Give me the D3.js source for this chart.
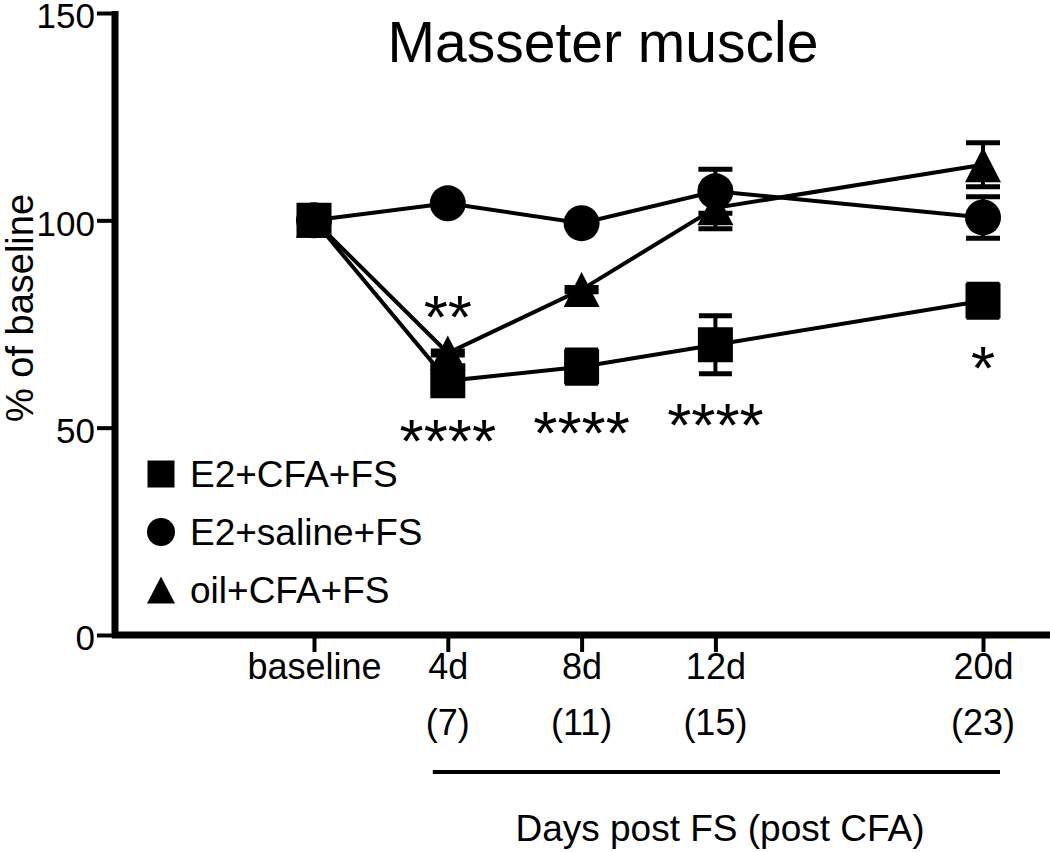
<!DOCTYPE html>
<html>
<head>
<meta charset="utf-8">
<script src="https://cdn.jsdelivr.net/npm/d3@7"></script>
<style>
  html, body { margin: 0; padding: 0; background: #fff; }
  svg { display: block; }
  text { font-family: "Liberation Sans", Arial, sans-serif; fill: #000; }
</style>
</head>
<body>
<svg id="chart" width="1050" height="852"></svg>
<script>
// ---- data ----
const days = [0, 4, 8, 12, 20];
const tickLabels = ["baseline", "4d", "8d", "12d", "20d"];
const postCFALabels = ["", "(7)", "(11)", "(15)", "(23)"];
const yTicks = [0, 50, 100, 150];
const seriesNames = ["E2+CFA+FS", "E2+saline+FS", "oil+CFA+FS"];
const e2cfa = [100, 61.3, 64.7, 70.0, 80.6];
const e2cfaErr = [0, 1.0, 4.0, 7.0, 4.0];
const e2saline = [100, 104.1, 99.3, 107.0, 100.7];
const e2salineErr = [0, 0.5, 0.5, 5.3, 5.0];
const oilcfa = [100, 68.0, 83.3, 103.0, 113.4];
const oilcfaErr = [0, 0.5, 0.5, 5.0, 5.3];
const sigDays = [4, 4, 8, 12, 20];
const sigLevels = [49.9, 79.8, 51.8, 53.8, 67.5];
const sigLabels = ["****", "**", "****", "****", "*"];
const title = "Masseter muscle";
const yTitle = "% of baseline";
const xTitle = "Days post FS (post CFA)";

// ---- layout ----
const svg = d3.select("#chart");
const axisX0 = 115, axisRight = 1050, axisY0 = 635, axisTop = 13;
const x = d3.scaleLinear().domain([0, 20]).range([314, 983]);
const y = d3.scaleLinear().domain([0, 150]).range([axisY0, axisTop]);

// square, circle, triangle symbol types
const triangle = {
  draw(ctx, size) {
    const s = Math.sqrt(size);
    const w = s * 1.0, h = s * 0.97;
    ctx.moveTo(0, -h / 2);
    ctx.lineTo(w / 2, h / 2);
    ctx.lineTo(-w / 2, h / 2);
    ctx.closePath();
  }
};
const squareSym = {
  draw(ctx, size) {
    const s = Math.sqrt(size);
    ctx.rect(-s / 2, -s / 2, s, s);
  }
};
const circleSym = {
  draw(ctx, size) {
    const r = Math.sqrt(size) / 2;
    ctx.moveTo(r, 0);
    ctx.arc(0, 0, r, 0, 2 * Math.PI);
  }
};

const series = [
  { name: seriesNames[0], vals: e2cfa, err: e2cfaErr, sym: squareSym, size: 35 * 35, lsize: 27 * 27 },
  { name: seriesNames[1], vals: e2saline, err: e2salineErr, sym: circleSym, size: 36 * 36, lsize: 28 * 28 },
  { name: seriesNames[2], vals: oilcfa, err: oilcfaErr, sym: triangle, size: 36 * 36, lsize: 28 * 28 }
];

// ---- axes ----
const yAxis = d3.axisLeft(y).tickValues(yTicks).tickSize(18).tickPadding(2).tickFormat(d3.format("d"));
const gy = svg.append("g").attr("transform", `translate(${axisX0},0)`).call(yAxis);
gy.select(".domain").remove();
gy.selectAll(".tick line").attr("stroke", "#000").attr("stroke-width", 4);
gy.selectAll(".tick text").style("font-size", "35px").attr("font-family", null).attr("dy", "0.42em");

const xAxis = d3.axisBottom(x).tickValues(days).tickSize(17).tickPadding(1)
  .tickFormat((d, i) => tickLabels[i]);
const gx = svg.append("g").attr("transform", `translate(0,${axisY0})`).call(xAxis);
gx.select(".domain").remove();
gx.selectAll(".tick line").attr("stroke", "#000").attr("stroke-width", 4);
gx.selectAll(".tick text").style("font-size", "36px").attr("font-family", null);

// axis lines
svg.append("line").attr("x1", axisX0).attr("x2", axisX0).attr("y1", axisTop - 2).attr("y2", axisY0 + 3)
  .attr("stroke", "#000").attr("stroke-width", 7);
svg.append("line").attr("x1", axisX0 - 3).attr("x2", axisRight).attr("y1", axisY0).attr("y2", axisY0)
  .attr("stroke", "#000").attr("stroke-width", 7);

// second row labels
svg.append("g").selectAll("text").data(days).join("text")
  .attr("x", d => x(d)).attr("y", 735)
  .attr("text-anchor", "middle").style("font-size", "36px")
  .text((d, i) => postCFALabels[i]);

// underline bracket
svg.append("line").attr("x1", x(4) - 15).attr("x2", x(20) + 17).attr("y1", 772).attr("y2", 772)
  .attr("stroke", "#000").attr("stroke-width", 4);

svg.append("text").attr("x", 720).attr("y", 841).attr("text-anchor", "middle")
  .style("font-size", "37px").text(xTitle);

svg.append("text").attr("transform", "translate(33,308) rotate(-90)").attr("text-anchor", "middle")
  .style("font-size", "38px").text(yTitle);

svg.append("text").attr("x", 603).attr("y", 62).attr("text-anchor", "middle")
  .style("font-size", "57px").text(title);

// ---- lines ----
const line = d3.line().x((d, i) => x(days[i])).y(d => y(d));
const gLines = svg.append("g");
series.forEach(s => {
  gLines.append("path").attr("d", line(s.vals)).attr("fill", "none")
    .attr("stroke", "#000").attr("stroke-width", 4);
});

// ---- error bars + markers (draw triangle, circle, square order) ----
const drawOrder = [2, 1, 0];
drawOrder.forEach(k => {
  const s = series[k];
  const g = svg.append("g");
  const capW = Math.sqrt(s.size) - 2;
  s.vals.forEach((v, i) => {
    const e = s.err[i];
    if (e > 0) {
      const cx = x(days[i]);
      g.append("line").attr("x1", cx).attr("x2", cx).attr("y1", y(v + e)).attr("y2", y(v - e))
        .attr("stroke", "#000").attr("stroke-width", 4);
      [v + e, v - e].forEach(ev => {
        g.append("line").attr("x1", cx - capW / 2).attr("x2", cx + capW / 2)
          .attr("y1", y(ev)).attr("y2", y(ev)).attr("stroke", "#000").attr("stroke-width", 5);
      });
    }
  });
  g.selectAll("path.m").data(s.vals).join("path").attr("class", "m")
    .attr("transform", (d, i) => `translate(${x(days[i])},${y(d)})`)
    .attr("d", d3.symbol().type(s.sym).size(s.size)())
    .attr("fill", "#000");
});

// ---- significance marks ----
svg.append("g").selectAll("text").data(sigLabels).join("text")
  .attr("x", (d, i) => x(sigDays[i]))
  .attr("y", (d, i) => y(sigLevels[i]) + 34)
  .attr("text-anchor", "middle").style("font-size", "62px")
  .text(d => d);

// ---- legend ----
const legend = svg.append("g");
const legendRows = [474, 532, 590];
series.forEach((s, i) => {
  legend.append("path").attr("transform", `translate(161,${legendRows[i]})`)
    .attr("d", d3.symbol().type(s.sym).size(s.lsize)()).attr("fill", "#000");
  legend.append("text").attr("x", 190).attr("y", legendRows[i] + 13)
    .style("font-size", "37px").text(s.name);
});
</script>
</body>
</html>
